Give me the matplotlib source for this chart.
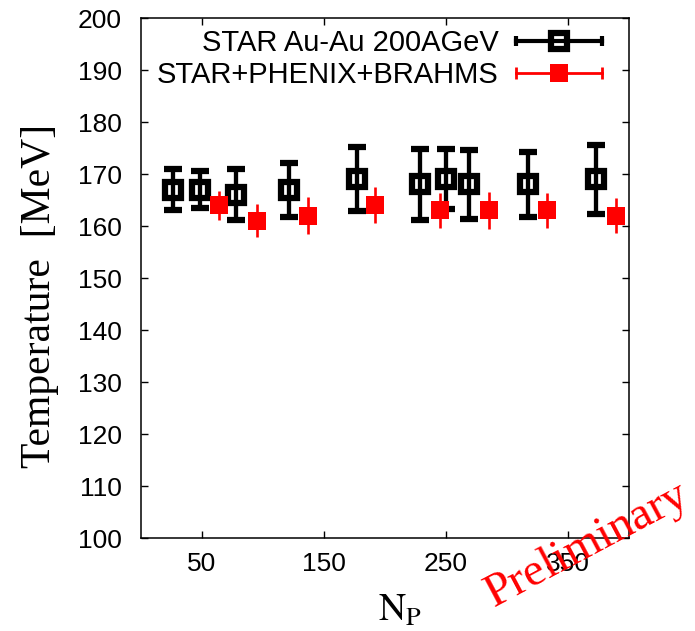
import numpy as np
import matplotlib
matplotlib.use('Agg')
import matplotlib.pyplot as plt
from matplotlib.lines import Line2D
from matplotlib.legend_handler import HandlerLine2D, HandlerTuple

plt.rcParams['font.family'] = 'Liberation Sans'
plt.rcParams['mathtext.fontset'] = 'stix'

# freeze-out temperature vs number of participants
star_np = [26, 48, 78, 121, 177, 229, 250, 269, 317, 373]
star_t = [167, 167, 166, 167, 169, 168, 169, 168, 168, 169]
star_err = [4.0, 3.5, 4.9, 5.2, 6.1, 6.8, 5.8, 6.7, 6.3, 6.6]

comb_np = [64, 95, 137, 192, 245, 285, 333, 389]
comb_t = [164, 161, 162, 164, 163, 163, 163, 162]
comb_err = [2.8, 3.2, 3.6, 3.5, 3.4, 3.6, 3.4, 3.4]

x_ticks = [50, 150, 250, 350]
y_ticks = np.arange(100, 201, 10)

fig = plt.figure(figsize=(6.95, 6.31), dpi=100)
ax = fig.add_axes([141/695, 93/631, 488/695, 520/631])

ax.errorbar(star_np, star_t, yerr=star_err, fmt='s', color='black',
            mfc='none', mec='black', ms=12, mew=4.5,
            elinewidth=3.1, capsize=6.5, capthick=3, zorder=3)
ax.errorbar(comb_np, comb_t, yerr=comb_err, fmt='s', color='red',
            mfc='red', mec='red', ms=13, mew=0,
            elinewidth=1.9, capsize=6.5, capthick=2, zorder=4)

ax.set_xlim(0, 400)
ax.set_ylim(100, 200)
ax.set_xticks(x_ticks)
ax.set_yticks(y_ticks)
ax.tick_params(axis='both', direction='in', length=5, width=1,
               top=True, right=True, labelsize=19)
ax.tick_params(axis='y', pad=14)
ax.tick_params(axis='x', pad=10)
for s in ax.spines.values():
    s.set_linewidth(1.1)

ax.set_ylabel('Temperature  [MeV]', family='Liberation Serif', fontsize=30,
              va='center')
ax.yaxis.set_label_coords(-0.207, 0.465)
ax.set_xlabel(r'$\mathrm{N_P}$', fontsize=27, va='top')
ax.xaxis.set_label_coords(0.531, -0.105)

# gnuplot-like legend samples: horizontal bar with caps, marker in the middle
k_bar = Line2D([], [], color='black', lw=3, marker='|', ms=7, mew=3)
k_sq = Line2D([], [], ls='none', marker='s', mfc='none', mec='black',
              ms=12, mew=4.5)
r_bar = Line2D([], [], color='red', lw=2, marker='|', ms=8, mew=2)
r_sq = Line2D([], [], ls='none', marker='s', mfc='red', mec='red',
              ms=13, mew=0)
hmap = {k_bar: HandlerLine2D(numpoints=2, marker_pad=0),
        r_bar: HandlerLine2D(numpoints=2, marker_pad=0),
        tuple: HandlerTuple(ndivide=1)}
leg = ax.legend([(k_bar, k_sq), (r_bar, r_sq)],
                ['STAR Au-Au 200AGeV', 'STAR+PHENIX+BRAHMS'],
                handler_map=hmap, markerfirst=False, frameon=False,
                fontsize=21, loc='upper right',
                bbox_to_anchor=(602/695, 1 - 29/631),
                bbox_transform=fig.transFigure,
                borderpad=0, borderaxespad=0, labelspacing=0.15,
                handlelength=2.95, handletextpad=0.6)

fig.text(494/695, 1 - 607/631, 'Preliminary', color='red',
         family='Liberation Serif', fontsize=34, rotation=28,
         rotation_mode='anchor', ha='left', va='baseline')

fig.savefig('out.png', dpi=100)
